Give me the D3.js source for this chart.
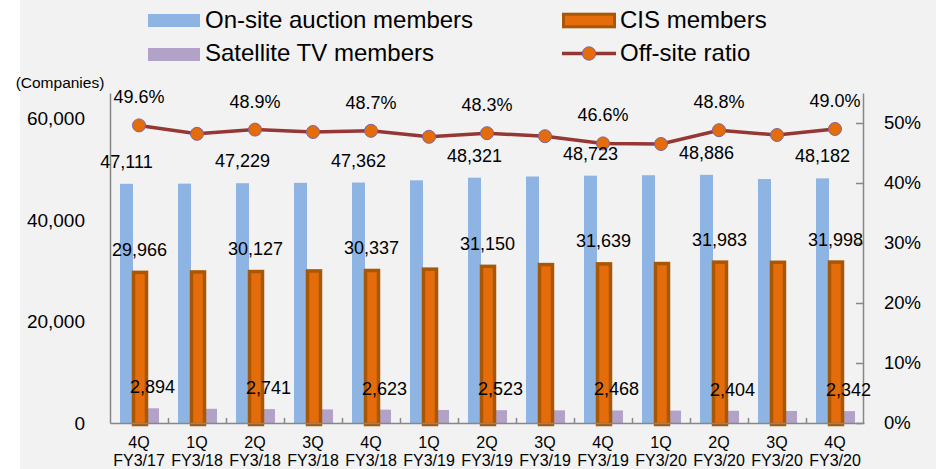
<!DOCTYPE html>
<html>
<head>
<meta charset="UTF-8">
<script src="https://d3js.org/d3.v7.min.js"></script>
<style>
  html, body { margin: 0; padding: 0; background: #fff; }
  svg text { font-family: "Liberation Sans", Arial, sans-serif; fill: #000; }
</style>
</head>
<body>
<div id="chart"></div>
<script>
const quarters = ['4Q', '1Q', '2Q', '3Q', '4Q', '1Q', '2Q', '3Q', '4Q', '1Q', '2Q', '3Q', '4Q'];
const fiscalYears = ['FY3/17', 'FY3/18', 'FY3/18', 'FY3/18', 'FY3/18', 'FY3/19', 'FY3/19', 'FY3/19', 'FY3/19', 'FY3/20', 'FY3/20', 'FY3/20', 'FY3/20'];
const onsiteMembers = [47111, 47150, 47229, 47300, 47362, 47800, 48321, 48550, 48723, 48800, 48886, 48050, 48182];
const cisMembers = [29966, 30050, 30127, 30250, 30337, 30600, 31150, 31500, 31639, 31700, 31983, 31950, 31998];
const satelliteMembers = [2894, 2800, 2741, 2680, 2623, 2570, 2523, 2490, 2468, 2440, 2404, 2370, 2342];
const offsiteRatio = [0.496, 0.482, 0.489, 0.485, 0.487, 0.477, 0.483, 0.478, 0.466, 0.465, 0.488, 0.480, 0.490];
const leftTicks = [0, 20000, 40000, 60000];
const rightTicks = [0, 0.1, 0.2, 0.3, 0.4, 0.5];

const W = 936, H = 469;
const plotLeft = 110, plotRight = 864, plotTop = 93, plotBottom = 423;
const idx = d3.range(quarters.length);

const svg = d3.select('#chart').append('svg')
  .attr('width', W).attr('height', H);

svg.append('rect').attr('x', 20).attr('y', 0).attr('width', W - 20).attr('height', H).attr('fill', '#f2f2f2');

const x = d3.scaleBand().domain(idx).range([plotLeft, plotRight]);
const xs = d3.scaleBand().domain(['onsite', 'cis', 'sat']).range([10, 49]);
const yL = d3.scaleLinear().domain([0, 65000]).range([plotBottom, plotTop]);
const yR = d3.scaleLinear().domain([0, 0.55]).range([plotBottom, plotTop]);
const xb = d3.scaleLinear().domain([0, quarters.length]).range([plotLeft, plotRight]);

const colors = { onsite: '#8eb4e3', cis: '#e46c0a', cisBorder: '#a85706', sat: '#b3a2c7', line: '#953735', marker: '#8064a2' };
const bw = xs.bandwidth();

// bars
svg.append('g').selectAll('rect').data(idx).join('rect')
  .attr('x', i => x(i) + xs('onsite')).attr('y', i => yL(onsiteMembers[i]))
  .attr('width', bw).attr('height', i => plotBottom - yL(onsiteMembers[i]))
  .attr('fill', colors.onsite);

svg.append('g').selectAll('rect').data(idx).join('rect')
  .attr('x', i => x(i) + xs('sat')).attr('y', i => yL(satelliteMembers[i]))
  .attr('width', bw).attr('height', i => plotBottom - yL(satelliteMembers[i]))
  .attr('fill', colors.sat);

svg.append('g').selectAll('rect').data(idx).join('rect')
  .attr('x', i => x(i) + xs('cis') + 0.5).attr('y', i => yL(cisMembers[i]) + 1.5)
  .attr('width', bw).attr('height', i => plotBottom - yL(cisMembers[i]))
  .attr('fill', colors.cis)
  .attr('stroke', colors.cisBorder).attr('stroke-width', 3.5);

// axes
const axisColor = '#878787';
const gL = svg.append('g').attr('transform', `translate(${plotLeft},0)`)
  .call(d3.axisLeft(yL).tickValues(leftTicks).tickSize(0).tickPadding(25).tickFormat(d3.format(',')));
const gR = svg.append('g').attr('transform', `translate(${plotRight - 1},0)`)
  .call(d3.axisRight(yR).tickValues(rightTicks).tickSizeInner(-7).tickSizeOuter(0).tickPadding(21).tickFormat(d3.format('.0%')));
const gB = svg.append('g').attr('transform', `translate(0,${plotBottom})`)
  .call(d3.axisBottom(xb).tickValues(d3.range(1, quarters.length)).tickSizeInner(-5).tickSizeOuter(0).tickFormat(''));
[gL, gR, gB].forEach(g => {
  g.selectAll('.domain, line').attr('stroke', axisColor).attr('stroke-width', 1.5);
  g.selectAll('text').attr('font-size', 19).attr('font-family', '"Liberation Sans", Arial, sans-serif').attr('fill', '#000');
});
gR.selectAll('text').attr('font-size', 18.5);

svg.append('text').attr('x', 60).attr('y', 88).attr('text-anchor', 'middle')
  .attr('font-size', 15.5).text('(Companies)');

// category labels
const cat = svg.append('g').selectAll('text').data(idx).join('text')
  .attr('text-anchor', 'middle').attr('font-size', 16);
cat.append('tspan').attr('x', i => x(i) + x.bandwidth() / 2).attr('y', 448).text(i => quarters[i]);
cat.append('tspan').attr('x', i => x(i) + x.bandwidth() / 2).attr('y', 466).text(i => fiscalYears[i]);

// ratio line
const cx = i => x(i) + x.bandwidth() / 2;
svg.append('path').datum(idx)
  .attr('d', d3.line().x(cx).y(i => yR(offsiteRatio[i])))
  .attr('fill', 'none').attr('stroke', colors.line).attr('stroke-width', 3.5);
svg.append('g').selectAll('circle').data(idx).join('circle')
  .attr('cx', cx).attr('cy', i => yR(offsiteRatio[i])).attr('r', 6.5)
  .attr('fill', colors.cis).attr('stroke', colors.marker).attr('stroke-width', 1);

// data labels (every other quarter)
const labelled = idx.filter(i => i % 2 === 0);
const fmt = d3.format(',');
const labels = svg.append('g').attr('font-size', 18).attr('text-anchor', 'middle');
labels.selectAll('.l-on').data(labelled).join('text').attr('class', 'l-on')
  .attr('x', i => x(i) + xs('onsite') + bw / 2).attr('y', i => yL(onsiteMembers[i]) - 16)
  .text(i => fmt(onsiteMembers[i]));
labels.selectAll('.l-cis').data(labelled).join('text').attr('class', 'l-cis')
  .attr('x', i => x(i) + xs('cis') + bw / 2).attr('y', i => yL(cisMembers[i]) - 15)
  .text(i => fmt(cisMembers[i]));
labels.selectAll('.l-sat').data(labelled).join('text').attr('class', 'l-sat')
  .attr('x', i => x(i) + xs('sat') + bw / 2).attr('y', i => yL(satelliteMembers[i]) - 15)
  .text(i => fmt(satelliteMembers[i]));
labels.selectAll('.l-r').data(labelled).join('text').attr('class', 'l-r')
  .attr('x', cx).attr('y', i => yR(offsiteRatio[i]) - 22)
  .text(i => d3.format('.1%')(offsiteRatio[i]));

// legend
const lg = svg.append('g').attr('font-size', 24);
lg.append('rect').attr('x', 148).attr('y', 14).attr('width', 52).attr('height', 13).attr('fill', colors.onsite);
lg.append('text').attr('x', 205).attr('y', 28).text('On-site auction members');
lg.append('rect').attr('x', 148).attr('y', 48).attr('width', 52).attr('height', 13).attr('fill', colors.sat);
lg.append('text').attr('x', 205).attr('y', 61).text('Satellite TV members');
lg.append('rect').attr('x', 563.5).attr('y', 14.2).attr('width', 51).attr('height', 12.6)
  .attr('fill', colors.cis).attr('stroke', colors.cisBorder).attr('stroke-width', 3);
lg.append('text').attr('x', 620).attr('y', 28).text('CIS members');
lg.append('line').attr('x1', 562).attr('x2', 616).attr('y1', 53.5).attr('y2', 53.5)
  .attr('stroke', colors.line).attr('stroke-width', 3.5);
lg.append('circle').attr('cx', 589).attr('cy', 53.5).attr('r', 6.7)
  .attr('fill', colors.cis).attr('stroke', colors.marker).attr('stroke-width', 1);
lg.append('text').attr('x', 620).attr('y', 61).text('Off-site ratio');
</script>
</body>
</html>
